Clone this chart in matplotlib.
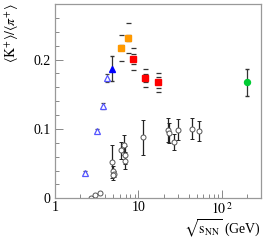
import matplotlib
matplotlib.use("Agg")
import matplotlib.pyplot as plt
from matplotlib.ticker import FixedLocator, LogLocator, MultipleLocator, NullFormatter

plt.rcParams["font.family"] = ["Liberation Serif", "DejaVu Serif"]
plt.rcParams["mathtext.fontset"] = "stix"

# open blue triangles
tri_x = [2.26, 3.21, 3.72, 4.16]
tri_y = [0.037, 0.097, 0.133, 0.173]
tri_err = [0.002, 0.003, 0.004, 0.006]

# filled blue triangle
ftri_x = [4.78]
ftri_y = [0.187]
ftri_err = [0.018]

# orange squares
or_x = [6.19, 7.58]
or_y = [0.217, 0.231]
or_stat = [0.004, 0.004]
or_sys = [0.019, 0.021]

# red squares
red_x = [8.71, 12.0, 17.1]
red_y = [0.201, 0.173, 0.167]
red_stat = [0.007, 0.006, 0.008]
red_sys = [0.016, 0.013, 0.014]

# green circle
grn_x = [200]
grn_y = [0.167]
grn_err = [0.02]

# open black circles
circ_x = [2.67, 2.98, 3.43, 4.86, 4.9, 5.1, 5.0, 6.2, 6.7, 6.8, 6.9,
          11.3, 22.4, 23.6, 27.1, 29.8, 44.4, 52.8]
circ_y = [0.001, 0.005, 0.008, 0.053, 0.040, 0.035, 0.033, 0.069, 0.077, 0.062, 0.054,
          0.088, 0.098, 0.094, 0.081, 0.099, 0.100, 0.097]
circ_err = [0, 0, 0, 0.024, 0.006, 0.005, 0.006, 0.012, 0.014, 0.013, 0.012,
            0.0255, 0.017, 0.0145, 0.012, 0.0155, 0.015, 0.0145]

fig = plt.figure(figsize=(2.64, 2.42), dpi=100)
ax = fig.add_axes([0.2095, 0.1806, 0.7803, 0.8029])

ax.errorbar(circ_x, circ_y, yerr=circ_err, fmt="o", ms=3.6, mfc="white", mec="#555555",
            mew=0.7, ecolor="#222222", elinewidth=0.9, capsize=1.5, capthick=0.9)
ax.errorbar(tri_x, tri_y, yerr=tri_err, fmt="^", ms=5, mfc="white", mec="#5555ff",
            mew=0.9, ecolor="#444444", elinewidth=0.7, capsize=1.2)
ax.errorbar(ftri_x, ftri_y, yerr=ftri_err, fmt="^", ms=5, color="#0000ff",
            ecolor="#333333", elinewidth=0.9, capsize=1.5)
# systematic / statistical dashes
for xs, ys, errs in [(or_x, or_y, or_sys), (or_x, or_y, or_stat),
                     (red_x, red_y, red_sys), (red_x, red_y, red_stat)]:
    ax.errorbar(xs, ys, yerr=errs, fmt="none", elinewidth=0, ecolor="#333333",
                capsize=1.8, capthick=0.9)
ax.plot(or_x, or_y, "s", ms=4.6, color="#ff9900", mec="#ff9900")
ax.plot(red_x, red_y, "s", ms=4.6, color="#ff0000", mec="#ff0000")
ax.errorbar(grn_x, grn_y, yerr=grn_err, fmt="o", ms=4.3, color="#00cc33",
            ecolor="#333333", elinewidth=0.9, capsize=1.5)

ax.set_xscale("log")
ax.set_xlim(1, 300)
ax.set_ylim(0, 0.28)

ax.xaxis.set_major_locator(FixedLocator([1, 10, 100]))
ax.set_xticklabels(["1", "10", r"$10^{\,2}$"])
ax.xaxis.set_minor_locator(LogLocator(base=10, subs=range(2, 10)))
ax.xaxis.set_minor_formatter(NullFormatter())
ax.yaxis.set_major_locator(FixedLocator([0, 0.1, 0.2]))
ax.set_yticklabels(["0", "0.1", "0.2"])
ax.yaxis.set_minor_locator(MultipleLocator(0.02))

ax.tick_params(which="both", direction="in", top=False, right=False, labelsize=10,
               color="#888888")
ax.tick_params(which="major", length=6, width=0.7)
ax.tick_params(which="minor", length=3, width=0.7)
ax.tick_params(axis="x", pad=2)
for s in ax.spines.values():
    s.set_color("#999999")
    s.set_linewidth(0.9)

fig.text(0.045, 0.985, r"$\langle \mathrm{K}^{+}\rangle/\langle \pi^{+}\rangle$",
         rotation=90, ha="center", va="top", fontsize=10)
fig.text(0.99, 0.008, r"$\sqrt{\mathrm{s}_{\mathrm{NN}}}$ (GeV)", ha="right", va="bottom",
         fontsize=10)

fig.savefig("out.png", dpi=100)
